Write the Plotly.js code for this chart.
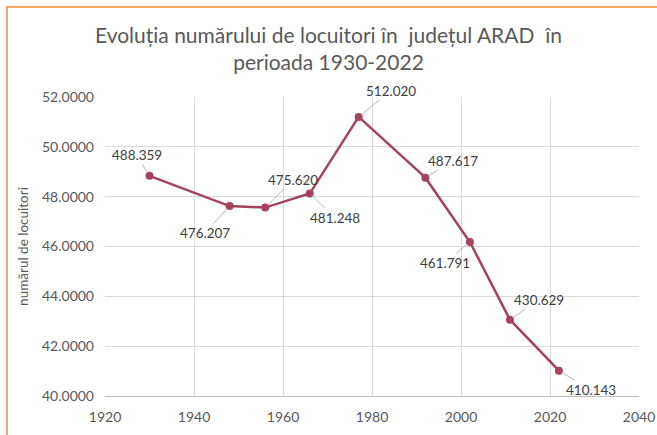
<!DOCTYPE html>
<html>
<head>
<meta charset="utf-8">
<script src="https://cdn.plot.ly/plotly-3.0.1.min.js"></script>
<style>
  html, body { margin: 0; padding: 0; background: #fff; }
  #wrap { position: relative; width: 657px; height: 435px; }
  #chart { width: 657px; height: 435px; }
  #frame { position: absolute; left: 6px; top: 6px; right: 0; bottom: 0;
           border-left: 2px solid #F4A766; border-top: 2px solid #F4A766;
           pointer-events: none; }
</style>
</head>
<body>
<div id="wrap">
  <div id="chart"></div>
  <div id="frame"></div>
</div>
<script>
// Data
const years = [1930, 1948, 1956, 1966, 1977, 1992, 2002, 2011, 2022];
const population = [488359, 476207, 475620, 481248, 512020, 487617, 461791, 430629, 410143];
const labelText = ["488.359", "476.207", "475.620", "481.248", "512.020", "487.617", "461.791", "430.629", "410.143"];
// label offsets (pixels) for leader-lined data labels
const labelDX = [-13, -25, 28, 25, 32, 28, -25, 29, 32];
const labelDY = [-21, 27, -28, 24, -26, -17, 21, -20, 19];

const yValues = population.map(v => v / 10000);

const lineColor = '#A5435F';
const textColor = '#595959';
const fontFam = 'Lato, "Open Sans", sans-serif';

const trace = {
  x: years,
  y: yValues,
  type: 'scatter',
  mode: 'lines+markers',
  line: { color: lineColor, width: 2.5 },
  marker: { color: lineColor, size: 8, symbol: 'circle' },
  hoverinfo: 'skip'
};

const annotations = years.map((yr, i) => ({
  x: yr, y: yValues[i], xref: 'x', yref: 'y',
  text: labelText[i],
  showarrow: true, arrowhead: 0, arrowwidth: 0.8, arrowcolor: '#A6A6A6',
  ax: labelDX[i], ay: labelDY[i], standoff: 3,
  font: { family: fontFam, size: 13.5, color: '#404040' }
}));

const layout = {
  width: 657, height: 435,
  margin: { l: 105, r: 18, t: 97, b: 39, pad: 0 },
  paper_bgcolor: '#ffffff', plot_bgcolor: '#ffffff',
  showlegend: false,
  title: {
    text: 'Evoluția numărului de locuitori în  județul ARAD  în<br>perioada 1930-2022',
    font: { family: fontFam, size: 21, color: textColor },
    x: 0.5, xanchor: 'center', xref: 'container',
    y: 1 - 42.5 / 435, yanchor: 'middle', yref: 'container'
  },
  xaxis: {
    range: [1920, 2040], dtick: 20, tick0: 1920,
    showgrid: true, gridcolor: '#D9D9D9', gridwidth: 1,
    zeroline: false, showline: true, linecolor: '#BFBFBF', linewidth: 1,
    ticks: '', ticklen: 0, ticklabelstandoff: 8,
    tickfont: { family: fontFam, size: 14, color: textColor }
  },
  yaxis: {
    range: [40, 52], dtick: 2, tick0: 40, tickformat: '.4f',
    showgrid: true, gridcolor: '#D9D9D9', gridwidth: 1,
    zeroline: false, showline: false, ticks: '',
    ticklabelstandoff: 10,
    tickfont: { family: fontFam, size: 14, color: textColor },
    title: {
      text: 'numărul de locuitori', standoff: 10,
      font: { family: fontFam, size: 13.5, color: textColor }
    }
  },
  annotations: annotations
};

Plotly.newPlot('chart', [trace], layout, { displayModeBar: false, staticPlot: true });
</script>
</body>
</html>
